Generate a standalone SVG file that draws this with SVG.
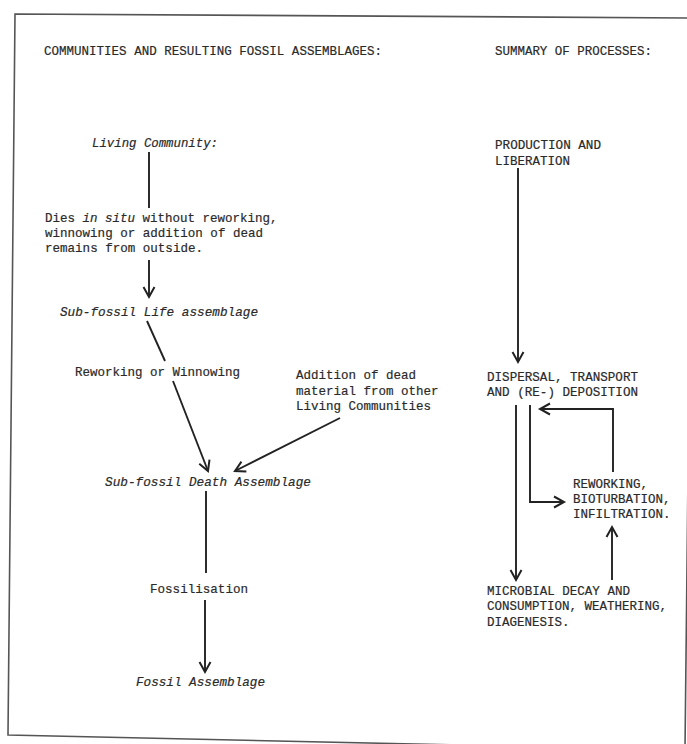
<svg xmlns="http://www.w3.org/2000/svg" width="687" height="744" viewBox="0 0 687 744">
  <style>
    .t { font-family: "Liberation Mono", "DejaVu Sans Mono", monospace; font-size: 13.5px; fill: #2a2a2a; stroke: #2a2a2a; stroke-width: 0.2; }
    .i { font-style: italic; }
    .ln { stroke: #222; stroke-width: 1.9; fill: none; }
    .border { stroke: #555; stroke-width: 1.6; fill: none; }
  </style>
  <defs>
    <marker id="arr" markerUnits="userSpaceOnUse" markerWidth="14" markerHeight="14" viewBox="-12 -7 14 14" refX="0" refY="0" orient="auto" overflow="visible">
      <path d="M-10,-5.5 L0,0 L-10,5.5" fill="none" stroke="#222" stroke-width="2"/>
    </marker>
  </defs>
  <rect width="687" height="744" fill="#ffffff"/>
  <polygon class="border" points="15,14 693,18 685,750 8,735"/>

  <g id="headings">
    <text class="t" x="44" y="55" textLength="338" lengthAdjust="spacingAndGlyphs">COMMUNITIES AND RESULTING FOSSIL ASSEMBLAGES:</text>
    <text class="t" x="495" y="55" textLength="157" lengthAdjust="spacingAndGlyphs">SUMMARY OF PROCESSES:</text>
  </g>

  <g id="living-community">
    <text class="t i" x="92" y="147" textLength="126" lengthAdjust="spacingAndGlyphs">Living Community:</text>
  </g>
  <g id="dies-in-situ">
    <text class="t" x="45" y="222" textLength="30" lengthAdjust="spacingAndGlyphs">Dies</text>
    <text class="t i" x="82.5" y="222" textLength="52.5" lengthAdjust="spacingAndGlyphs">in situ</text>
    <text class="t" x="142.5" y="222" textLength="135" lengthAdjust="spacingAndGlyphs">without reworking,</text>
    <text class="t" x="45" y="237" textLength="218" lengthAdjust="spacingAndGlyphs">winnowing or addition of dead</text>
    <text class="t" x="45" y="252" textLength="158" lengthAdjust="spacingAndGlyphs">remains from outside.</text>
  </g>
  <g id="sub-fossil-life">
    <text class="t i" x="60" y="316" textLength="198" lengthAdjust="spacingAndGlyphs">Sub-fossil Life assemblage</text>
  </g>
  <g id="reworking-winnowing">
    <text class="t" x="75" y="376" textLength="165" lengthAdjust="spacingAndGlyphs">Reworking or Winnowing</text>
  </g>
  <g id="addition-dead">
    <text class="t" x="296" y="379" textLength="120" lengthAdjust="spacingAndGlyphs">Addition of dead</text>
    <text class="t" x="296" y="395" textLength="142.5" lengthAdjust="spacingAndGlyphs">material from other</text>
    <text class="t" x="296" y="410" textLength="135" lengthAdjust="spacingAndGlyphs">Living Communities</text>
  </g>
  <g id="sub-fossil-death">
    <text class="t i" x="105" y="486" textLength="206" lengthAdjust="spacingAndGlyphs">Sub-fossil Death Assemblage</text>
  </g>
  <g id="fossilisation">
    <text class="t" x="150" y="593" textLength="98" lengthAdjust="spacingAndGlyphs">Fossilisation</text>
  </g>
  <g id="fossil-assemblage">
    <text class="t i" x="136" y="686" textLength="129" lengthAdjust="spacingAndGlyphs">Fossil Assemblage</text>
  </g>

  <g id="production-liberation">
    <text class="t" x="495" y="149" textLength="106" lengthAdjust="spacingAndGlyphs">PRODUCTION AND</text>
    <text class="t" x="495" y="165" textLength="75" lengthAdjust="spacingAndGlyphs">LIBERATION</text>
  </g>
  <g id="dispersal-transport">
    <text class="t" x="487" y="381" textLength="151" lengthAdjust="spacingAndGlyphs">DISPERSAL, TRANSPORT</text>
    <text class="t" x="487" y="396" textLength="151" lengthAdjust="spacingAndGlyphs">AND (RE-) DEPOSITION</text>
  </g>
  <g id="reworking-bioturbation">
    <text class="t" x="573" y="488" textLength="75" lengthAdjust="spacingAndGlyphs">REWORKING,</text>
    <text class="t" x="573" y="503" textLength="97.5" lengthAdjust="spacingAndGlyphs">BIOTURBATION,</text>
    <text class="t" x="573" y="518" textLength="97.5" lengthAdjust="spacingAndGlyphs">INFILTRATION.</text>
  </g>
  <g id="microbial-decay">
    <text class="t" x="487" y="595" textLength="143" lengthAdjust="spacingAndGlyphs">MICROBIAL DECAY AND</text>
    <text class="t" x="487" y="610" textLength="180" lengthAdjust="spacingAndGlyphs">CONSUMPTION, WEATHERING,</text>
    <text class="t" x="487" y="626" textLength="82.5" lengthAdjust="spacingAndGlyphs">DIAGENESIS.</text>
  </g>

  <g id="connectors">
    <line class="ln" x1="149" y1="152" x2="149" y2="208"/>
    <line class="ln" x1="149" y1="260" x2="149" y2="297" marker-end="url(#arr)"/>
    <line class="ln" x1="147" y1="321" x2="165" y2="361"/>
    <line class="ln" x1="173" y1="381" x2="208" y2="471" marker-end="url(#arr)"/>
    <line class="ln" x1="340" y1="418" x2="235" y2="471" marker-end="url(#arr)"/>
    <line class="ln" x1="206" y1="491" x2="206" y2="573"/>
    <line class="ln" x1="205" y1="600" x2="205" y2="672" marker-end="url(#arr)"/>
    <line class="ln" x1="518" y1="168" x2="518" y2="362" marker-end="url(#arr)"/>
    <line class="ln" x1="516" y1="405" x2="516" y2="580" marker-end="url(#arr)"/>
    <path class="ln" d="M530,405 V502 H564" marker-end="url(#arr)"/>
    <path class="ln" d="M613,472 V409 H540" marker-end="url(#arr)"/>
    <line class="ln" x1="612" y1="580" x2="612" y2="527" marker-end="url(#arr)"/>
  </g>
</svg>
